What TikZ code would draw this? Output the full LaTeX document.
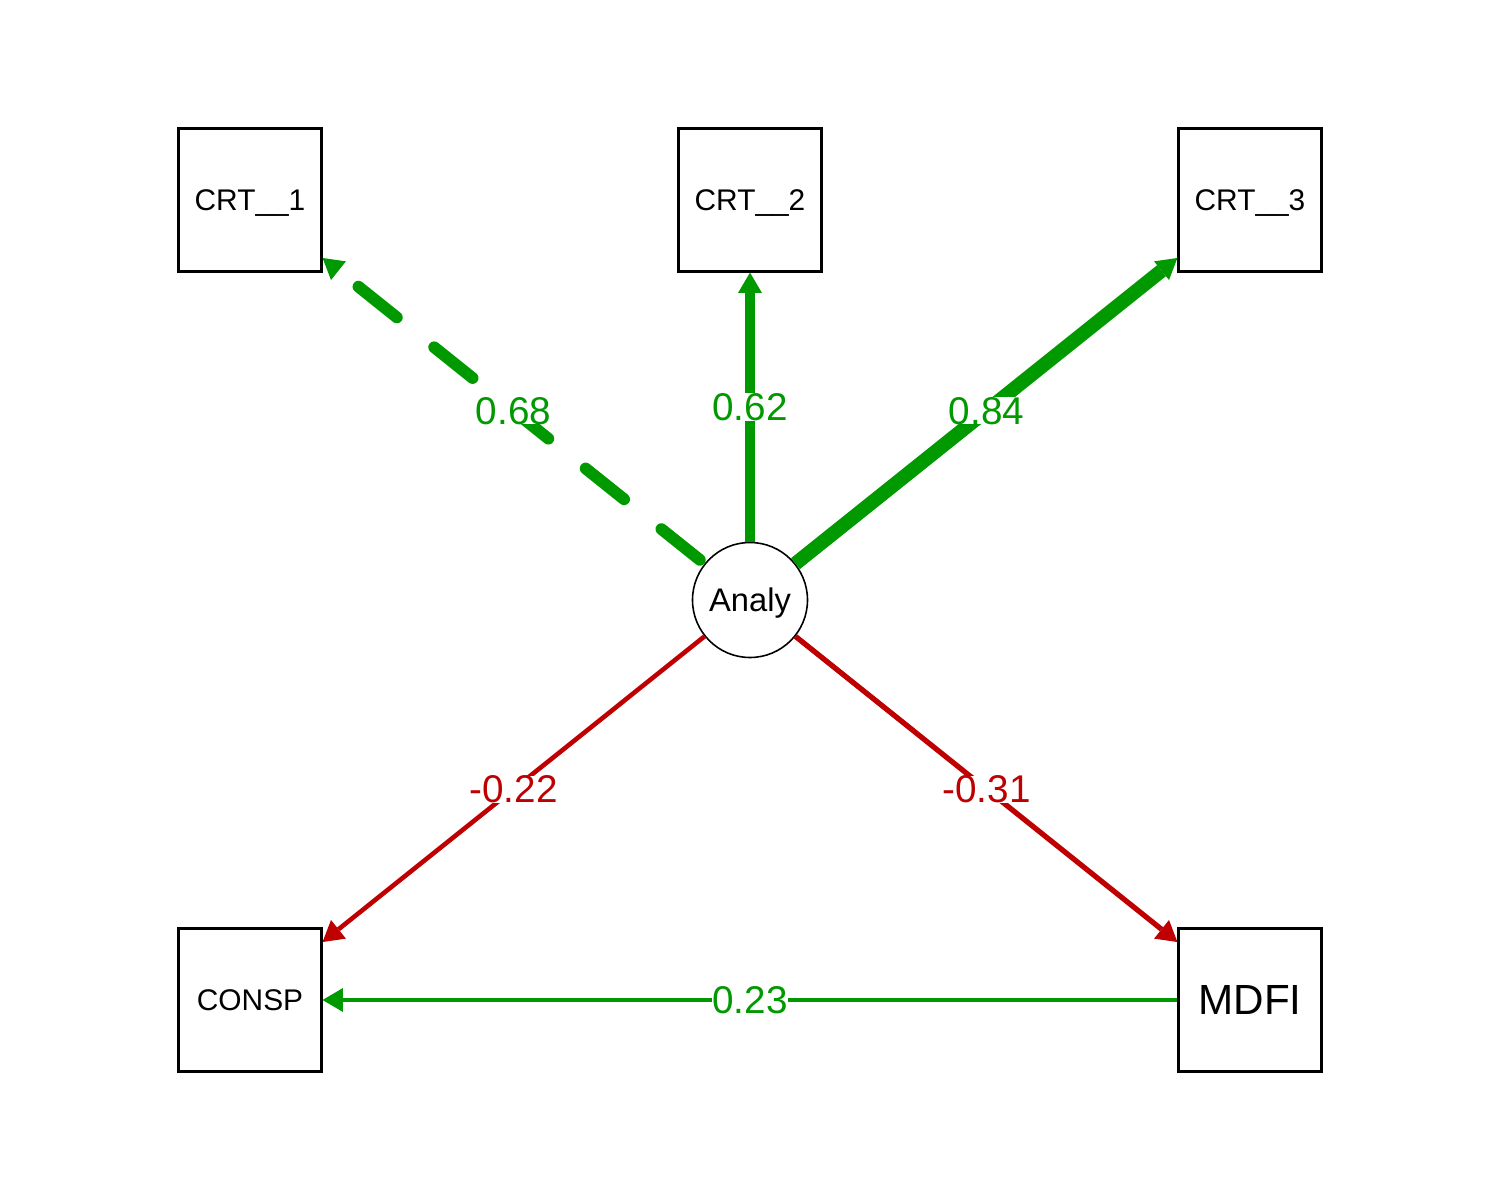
\documentclass[tikz,border=0pt]{standalone}
\usepackage{fontspec}
\setmainfont{Liberation Sans}
\usetikzlibrary{arrows.meta}
\definecolor{posgreen}{HTML}{009900}
\definecolor{negred}{HTML}{BF0000}
\begin{document}
\begin{tikzpicture}[
  box/.style={draw,line width=0.6pt,minimum size=1.43cm,inner sep=0pt,text depth=0pt,font=\fontsize{8.5}{10}\selectfont},
  latent/.style={draw,circle,line width=0.45pt,minimum size=1.15cm,inner sep=0pt,text depth=0pt,fill=white,font=\fontsize{9.3}{11}\selectfont},
  wlabel/.style={fill=white,inner sep=0pt,font=\fontsize{11}{13}\selectfont},
  posedge/.style={posgreen,-{Triangle[length=5.8pt,width=6.8pt,line width=0pt]}},
  negedge/.style={negred,-{Triangle[length=5.8pt,width=6.8pt,line width=0pt]}},
]
\useasboundingbox (0,0) rectangle (15,12);
%\draw[step=1cm,gray,very thin] (0,0) grid (15,12);
\node[box] (crt1) at (2.5,10) {CRT\_\_1};
\node[box] (crt2) at (7.5,10) {CRT\_\_2};
\node[box] (crt3) at (12.5,10) {CRT\_\_3};
\node[box] (consp) at (2.5,2) {CONSP};
\node[box,font=\fontsize{12}{14}\selectfont] (mdfi) at (12.5,2) {MDFI};
\node[latent] (analy) at (7.5,6) {Analy};
\draw[posedge,line width=3.35pt,line cap=round,dash pattern=on 14pt off 13.6pt,shorten <=1.7pt] (analy) -- node[wlabel]{0.68} (crt1);
\draw[posedge,line width=3pt] (analy) -- node[wlabel]{0.62} (crt2);
\draw[posedge,line width=4pt] (analy) -- node[wlabel]{0.84} (crt3);
\draw[negedge,line width=1.3pt] (analy) -- node[wlabel]{-0.22} (consp);
\draw[negedge,line width=1.5pt] (analy) -- node[wlabel]{-0.31} (mdfi);
\draw[posedge,line width=1.35pt] (mdfi) -- node[wlabel]{0.23} (consp);
\end{tikzpicture}
\end{document}
